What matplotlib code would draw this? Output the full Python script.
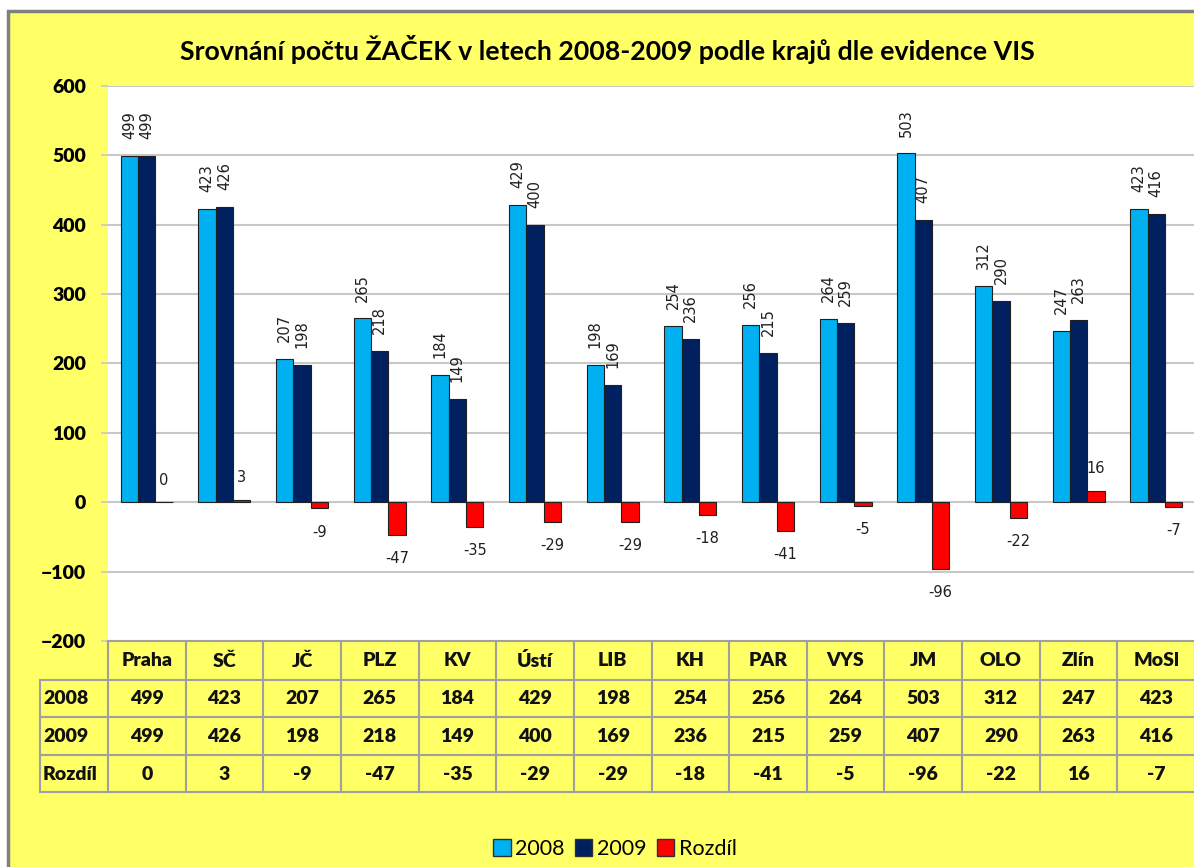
import matplotlib
matplotlib.use("Agg")
import matplotlib.pyplot as plt
import matplotlib.transforms as mtransforms
from matplotlib.patches import Rectangle, Patch
import numpy as np

# data
kraje = ["Praha", "SČ", "JČ", "PLZ", "KV", "Ústí", "LIB", "KH", "PAR", "VYS",
         "JM", "OLO", "Zlín", "MoSl"]
rok_2008 = [499, 423, 207, 265, 184, 429, 198, 254, 256, 264, 503, 312, 247, 423]
rok_2009 = [499, 426, 198, 218, 149, 400, 169, 236, 215, 259, 407, 290, 263, 416]
rozdil = [0, 3, -9, -47, -35, -29, -29, -18, -41, -5, -96, -22, 16, -7]
radky = ["2008", "2009", "Rozdíl"]
y_ticks = [-200, -100, 0, 100, 200, 300, 400, 500, 600]

title = "Srovnání počtu ŽAČEK v letech 2008-2009 podle krajů dle evidence VIS"

c2008 = "#00B0F0"
c2009 = "#002060"
crozd = "#FF0000"
yellow = "#FFFF66"
gridc = "#C8C8C8"
tablec = "#A0A0A0"

W, H = 1194, 867
fig = plt.figure(figsize=(W / 100, H / 100), dpi=100)
fig.patch.set_facecolor("white")

# yellow chart area with gray frame
frame = Rectangle((8 / W, -0.05), 1.2, 1 - 11 / H + 0.05, transform=fig.transFigure,
                  facecolor=yellow, edgecolor="#808080", linewidth=2.5, zorder=-10)
fig.add_artist(frame)

ax = fig.add_axes([108 / W, 1 - 641 / H, 1087 / W, 555 / H])
ax.set_facecolor("white")

x = np.arange(len(kraje))
bw = 0.223
b1 = ax.bar(x - bw, rok_2008, bw, color=c2008, edgecolor="#202020", linewidth=0.8, zorder=3)
b2 = ax.bar(x, rok_2009, bw, color=c2009, edgecolor="#202020", linewidth=0.8, zorder=3)
b3 = ax.bar(x + bw, rozdil, bw, color=crozd, edgecolor="#202020", linewidth=0.8, zorder=3)

ax.set_xlim(-0.5, len(kraje) - 0.5)
ax.set_ylim(-200, 600)
ax.set_yticks(y_ticks)
ax.set_xticks([])
ax.grid(axis="y", color=gridc, linewidth=1.5, zorder=0)
for s in ax.spines.values():
    s.set_visible(False)
ax.tick_params(axis="y", length=5, width=1.2, color=gridc, pad=11)
for lab in ax.get_yticklabels():
    lab.set_fontfamily("Lato")
    lab.set_fontweight("heavy")
    lab.set_fontsize(14)

# data labels
lab_kw = dict(fontsize=10.5, family="DejaVu Sans", color="#202020")
for i in range(len(kraje)):
    ax.annotate(str(rok_2008[i]), (x[i] - bw, rok_2008[i]), xytext=(0, 12),
                textcoords="offset points", rotation=90, ha="center", va="bottom", **lab_kw)
    ax.annotate(str(rok_2009[i]), (x[i], rok_2009[i]), xytext=(0, 12),
                textcoords="offset points", rotation=90, ha="center", va="bottom", **lab_kw)
    off = 16 if rozdil[i] >= 0 else -17
    ax.annotate(str(rozdil[i]), (x[i] + bw, rozdil[i]), xytext=(0, off),
                textcoords="offset points", ha="center", va="center", **lab_kw)

fig.text(607 / W, 1 - 50 / H, title, fontfamily="Lato", fontweight="bold",
         fontsize=19.3, ha="center", va="center")

# data table below the plot
tr = mtransforms.blended_transform_factory(ax.transData, ax.transAxes)
def ya(py):
    return -(py - 641) / 555.0

row_px = [641, 680, 717, 755, 792]
x_left = -0.5 - (108 - 40) / 77.6
x_right = len(kraje) - 0.5
line_kw = dict(color=tablec, linewidth=1.5, transform=tr, clip_on=False, zorder=5)
ax.plot([-0.5, x_right], [ya(641), ya(641)], **line_kw)
for py in row_px[1:]:
    ax.plot([x_left, x_right], [ya(py), ya(py)], **line_kw)
ax.plot([x_left, x_left], [ya(680), ya(792)], **line_kw)
for k in range(len(kraje) + 1):
    ax.plot([k - 0.5, k - 0.5], [ya(641), ya(792)], **line_kw)

txt_kw = dict(transform=tr, fontfamily="Lato", fontweight="heavy", fontsize=14,
              va="center", clip_on=False, color="#111111")
for i, name in enumerate(kraje):
    ax.text(x[i], ya(661), name, ha="center", **txt_kw)
    ax.text(x[i], ya(699), str(rok_2008[i]), ha="center", **txt_kw)
    ax.text(x[i], ya(736), str(rok_2009[i]), ha="center", **txt_kw)
    ax.text(x[i], ya(774), str(rozdil[i]), ha="center", **txt_kw)
for j, r in enumerate(radky):
    ax.text(x_left + 0.04, ya([699, 736, 774][j]), r, ha="left", **txt_kw)

# legend
handles = [Patch(facecolor=c2008, edgecolor="#303030", linewidth=1.0),
           Patch(facecolor=c2009, edgecolor="#303030", linewidth=1.0),
           Patch(facecolor=crozd, edgecolor="#303030", linewidth=1.0)]
fig.legend(handles, radky, loc="center", bbox_to_anchor=(615 / W, 1 - 849 / H),
           ncol=3, frameon=False, handlelength=0.8, handleheight=0.8,
           handletextpad=0.2, columnspacing=0.5,
           prop={"family": "Lato", "size": 15.5})

fig.savefig("out.png", dpi=100, facecolor=fig.get_facecolor())
